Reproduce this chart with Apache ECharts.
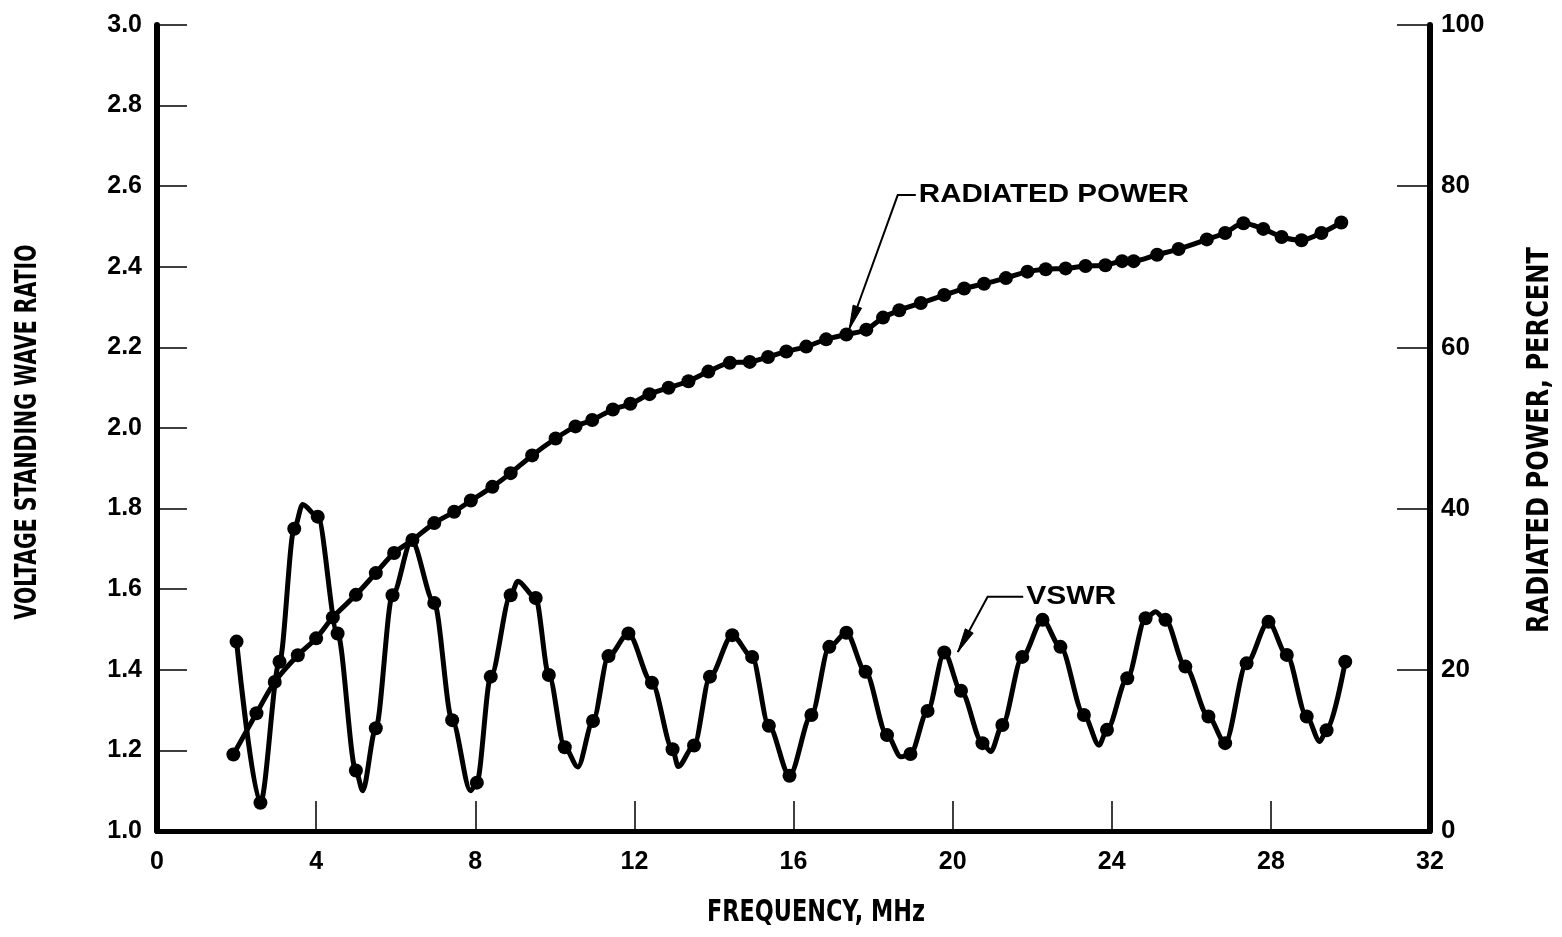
<!DOCTYPE html>
<html>
<head>
<meta charset="utf-8">
<title>VSWR and Radiated Power vs Frequency</title>
<script src="https://cdn.jsdelivr.net/npm/echarts@6/dist/echarts.min.js"></script>
<style>
  html, body { margin: 0; padding: 0; background: #fff; }
  #chart { width: 1562px; height: 937px; }
</style>
</head>
<body>
<div id="chart"></div>
<script>
// Frequency axis (MHz) and tick labels
const xTicks = [0, 4, 8, 12, 16, 20, 24, 28, 32];
const vswrTicks = [1.0, 1.2, 1.4, 1.6, 1.8, 2.0, 2.2, 2.4, 2.6, 2.8, 3.0];
const powerTicks = [0, 20, 40, 60, 80, 100];

// VSWR curve: frequency, ratio, and whether a measured point marker is shown (1) or
// the value only shapes the curve between markers (0)
const vswrFreq = [2.0, 2.6, 3.08, 3.45, 3.66, 4.04, 4.54, 5.0, 5.17, 5.5, 5.92, 6.4, 6.97, 7.42, 7.88, 8.04, 8.39, 8.89, 9.07, 9.52, 9.85, 10.25, 10.58, 10.96, 11.35, 11.85, 12.44, 12.96, 13.1, 13.5, 13.9, 14.46, 14.96, 15.38, 15.9, 16.45, 16.9, 17.33, 17.81, 18.35, 18.7, 18.94, 19.37, 19.79, 20.21, 20.75, 20.96, 21.25, 21.75, 22.26, 22.71, 23.3, 23.68, 23.88, 24.39, 24.85, 25.1, 25.35, 25.85, 26.43, 26.85, 27.39, 27.94, 28.4, 28.9, 29.23, 29.4, 29.87];
const vswrValue = [1.47, 1.07, 1.42, 1.75, 1.81, 1.78, 1.49, 1.15, 1.10, 1.255, 1.585, 1.72, 1.566, 1.275, 1.10, 1.12, 1.383, 1.585, 1.62, 1.578, 1.387, 1.208, 1.159, 1.273, 1.434, 1.49, 1.368, 1.203, 1.16, 1.212, 1.383, 1.486, 1.432, 1.261, 1.137, 1.288, 1.457, 1.492, 1.395, 1.238, 1.184, 1.191, 1.298, 1.443, 1.348, 1.218, 1.197, 1.263, 1.432, 1.524, 1.457, 1.288, 1.213, 1.251, 1.379, 1.528, 1.544, 1.524, 1.408, 1.284, 1.218, 1.416, 1.519, 1.437, 1.284, 1.222, 1.25, 1.42];
const vswrMarker = [1, 1, 1, 1, 0, 1, 1, 1, 0, 1, 1, 0, 1, 1, 0, 1, 1, 1, 0, 1, 1, 1, 0, 1, 1, 1, 1, 1, 0, 1, 1, 1, 1, 1, 1, 1, 1, 1, 1, 1, 0, 1, 1, 1, 1, 1, 0, 1, 1, 1, 1, 1, 0, 1, 1, 1, 0, 1, 1, 1, 1, 1, 1, 1, 1, 0, 1, 1];

// Radiated power (percent) at each measured frequency
const powerFreq = [1.92, 2.5, 2.96, 3.54, 4.0, 4.42, 5.0, 5.5, 5.96, 6.42, 6.97, 7.47, 7.89, 8.43, 8.89, 9.43, 10.02, 10.52, 10.94, 11.46, 11.9, 12.38, 12.86, 13.36, 13.86, 14.4, 14.9, 15.36, 15.82, 16.32, 16.82, 17.33, 17.83, 18.25, 18.66, 19.2, 19.79, 20.29, 20.79, 21.34, 21.88, 22.34, 22.84, 23.34, 23.84, 24.26, 24.55, 25.14, 25.68, 26.39, 26.85, 27.31, 27.81, 28.27, 28.77, 29.27, 29.77];
const powerValue = [9.5, 14.6, 18.5, 21.8, 23.9, 26.5, 29.3, 32.0, 34.5, 36.1, 38.2, 39.6, 41.0, 42.7, 44.4, 46.6, 48.7, 50.2, 51.0, 52.3, 53.0, 54.2, 55.0, 55.8, 57.0, 58.1, 58.2, 58.8, 59.5, 60.1, 61.0, 61.6, 62.2, 63.7, 64.6, 65.5, 66.5, 67.3, 67.9, 68.6, 69.4, 69.7, 69.8, 70.1, 70.2, 70.7, 70.7, 71.5, 72.2, 73.4, 74.2, 75.4, 74.7, 73.7, 73.3, 74.2, 75.5];

// Curve callouts: label text, label start, elbow and arrow tip (frequency, VSWR coords)
const callouts = [
  { text: 'RADIATED POWER', width: 270, label: [19.15, 2.578], elbow: [18.62, 2.578], tip: [17.4, 2.245] },
  { text: 'VSWR', width: 90, label: [21.85, 1.581], elbow: [20.88, 1.581], tip: [20.13, 1.444] }
];

// Axis titles, drawn as condensed bold lettering
const titles = [
  { text: 'VOLTAGE STANDING WAVE RATIO', x: 28, y: 432, length: 375, rotate: true },
  { text: 'RADIATED POWER, PERCENT', x: 1540, y: 440, length: 386, rotate: true },
  { text: 'FREQUENCY, MHz', x: 816, y: 913, length: 218, rotate: false }
];

const INK = '#000';
const tickFont = { color: INK, fontFamily: 'Liberation Sans', fontWeight: 'bold' };

const vswrData = vswrFreq.map((f, i) => ({
  value: [f, vswrValue[i]],
  symbol: vswrMarker[i] ? 'circle' : 'none'
}));
const powerData = powerFreq.map((f, i) => [f, powerValue[i]]);

const chart = echarts.init(document.getElementById('chart'), null, { renderer: 'canvas' });

chart.setOption({
  backgroundColor: '#fff',
  animation: false,
  grid: { left: 157, right: 132, top: 25, bottom: 106, containLabel: false },
  xAxis: {
    type: 'value',
    min: xTicks[0], max: xTicks[xTicks.length - 1], interval: 4,
    axisLine: { show: true, onZero: false, lineStyle: { color: INK, width: 5 } },
    axisTick: { show: true, inside: true, length: 30, lineStyle: { color: INK, width: 1.5 } },
    axisLabel: Object.assign({ fontSize: 25, margin: 19 }, tickFont),
    splitLine: { show: false }
  },
  yAxis: [
    {
      type: 'value', position: 'left',
      min: vswrTicks[0], max: vswrTicks[vswrTicks.length - 1], interval: 0.2,
      axisLine: { show: true, lineStyle: { color: INK, width: 6 } },
      axisTick: { show: true, inside: true, length: 30, lineStyle: { color: INK, width: 1.5 } },
      axisLabel: Object.assign({ fontSize: 25, margin: 15, formatter: v => v.toFixed(1) }, tickFont),
      splitLine: { show: false }
    },
    {
      type: 'value', position: 'right',
      min: powerTicks[0], max: powerTicks[powerTicks.length - 1], interval: 20,
      axisLine: { show: true, lineStyle: { color: INK, width: 6 } },
      axisTick: { show: true, inside: true, length: 33, lineStyle: { color: INK, width: 1.5 } },
      axisLabel: Object.assign({ fontSize: 26, margin: 11 }, tickFont),
      splitLine: { show: false }
    }
  ],
  series: [
    {
      name: 'VSWR', type: 'line', yAxisIndex: 0,
      data: vswrData,
      smooth: 0.3, smoothMonotone: 'x',
      showSymbol: true, symbolSize: 14,
      lineStyle: { color: INK, width: 5 },
      itemStyle: { color: INK },
      z: 3
    },
    {
      name: 'RADIATED POWER', type: 'line', yAxisIndex: 1,
      data: powerData,
      smooth: 0.3,
      symbol: 'circle', showSymbol: true, symbolSize: 14,
      lineStyle: { color: INK, width: 5 },
      itemStyle: { color: INK },
      z: 4
    }
  ]
});

// Measure text to squeeze or stretch it to a given run length
const measureCtx = document.createElement('canvas').getContext('2d');
function widthOf(text, font) { measureCtx.font = font; return measureCtx.measureText(text).width; }

function px(p) { return chart.convertToPixel({ xAxisIndex: 0, yAxisIndex: 0 }, p); }
const graphics = [];

titles.forEach(t => {
  const font = 'bold 30px "DejaVu Sans"';
  const s = t.length / widthOf(t.text, font);
  graphics.push({
    type: 'text',
    x: t.x, y: t.y,
    rotation: t.rotate ? Math.PI / 2 : 0,
    scaleX: s, scaleY: 1,
    style: { text: t.text, fill: INK, font: font, textAlign: 'center', textVerticalAlign: 'middle' }
  });
});

// Callout leaders and labels, placed in data space through the axes
callouts.forEach(c => {
  const l = px(c.label), e = px(c.elbow), t = px(c.tip);
  graphics.push({
    type: 'polyline',
    shape: { points: [[l[0] - 3, l[1]], e, t] },
    style: { stroke: INK, lineWidth: 2, fill: null }
  });
  // narrow arrowhead at the tip
  const ang = Math.atan2(t[1] - e[1], t[0] - e[0]);
  const len = 24, half = 4.5;
  const bx = t[0] - len * Math.cos(ang), by = t[1] - len * Math.sin(ang);
  const nx = -Math.sin(ang) * half, ny = Math.cos(ang) * half;
  graphics.push({
    type: 'polygon',
    shape: { points: [t, [bx + nx, by + ny], [bx - nx, by - ny]] },
    style: { fill: INK, stroke: INK, lineWidth: 1 }
  });
  const font = 'bold 25px "Liberation Sans"';
  const s = c.width / widthOf(c.text, font);
  graphics.push({
    type: 'text',
    x: l[0], y: l[1],
    scaleX: s, scaleY: 1,
    style: { text: c.text, fill: INK, font: font, textAlign: 'left', textVerticalAlign: 'middle' }
  });
});
chart.setOption({ graphic: graphics });
</script>
</body>
</html>
